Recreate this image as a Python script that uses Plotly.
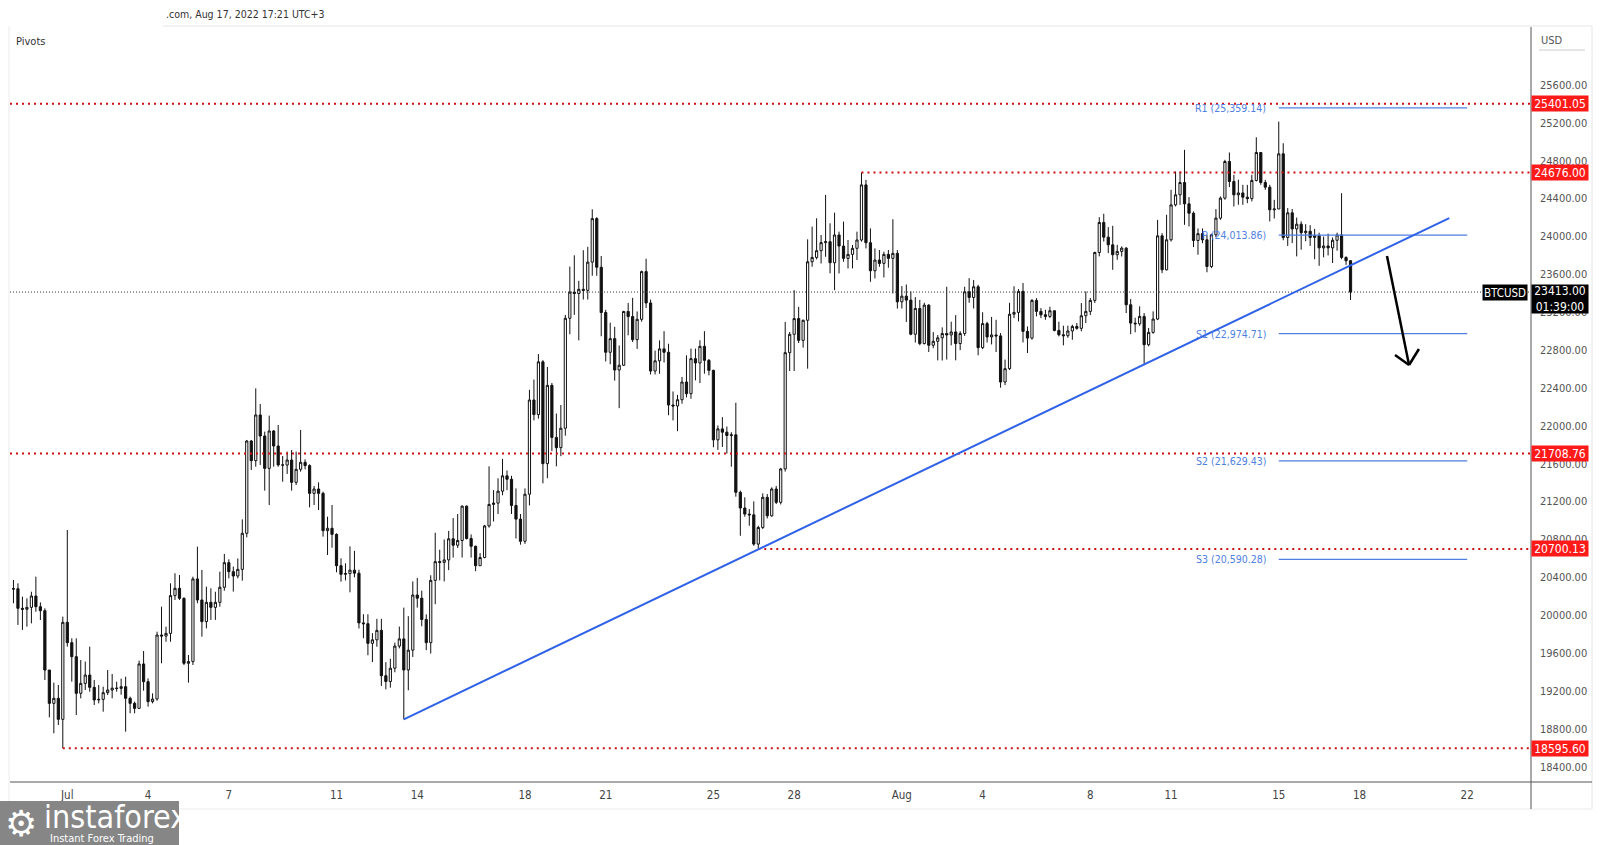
import plotly.graph_objects as go
import pandas as pd

# ---------------- DATA (BTCUSD, 4H candles) ----------------
candle_start = "2022-06-29 00:00"
candle_freq = "4h"
first_open = 20275

closes = [
    20280, 20073, 20063, 20083, 20203, 20090, 20048, 19421, 19069, 19122,
    18900, 19925, 19710, 19562, 19175, 19280, 19368, 19238, 19105, 19111,
    19182, 19210, 19230, 19227, 19245, 19122, 19069, 19016, 19485, 19298,
    19087, 19115, 19791, 19780, 19808, 20207, 20284, 20178, 19492, 19510,
    20383, 20161, 19932, 20136, 20083, 20136, 20295, 20555, 20460, 20414,
    20484, 20865, 21840, 21632, 22115, 21893, 21551, 21946, 21787, 21587,
    21586, 21639, 21403, 21541, 21615, 21580, 21287, 21333, 21287, 20893,
    20918, 20854, 20523, 20432, 20440, 20476, 20444, 19919, 19910, 19703,
    19740, 19840, 19361, 19300, 19440, 19674, 19750, 19422, 19631, 20213,
    20180, 19955, 19710, 20368, 20566, 20558, 20584, 20807, 20739, 20789,
    21152, 20810, 20728, 20523, 20609, 20943, 21170, 21184, 21310, 21472,
    21436, 21159, 21015, 20781, 21278, 22273, 22119, 22676, 21601, 22428,
    21878, 21770, 21975, 23136, 23413, 23398, 23442, 23431, 23729, 24189,
    23675, 23197, 22777, 22921, 22590, 22640, 23208, 23154, 22910, 23125,
    23629, 23298, 22579, 22687, 22813, 22777, 22220, 22210, 22276, 22463,
    22340, 22710, 22664, 22840, 22692, 22586, 21852, 21968, 21933, 21898,
    21905, 21298, 21132, 21068, 21060, 20751, 20927, 21245, 21050, 21333,
    21192, 21545, 22773, 22967, 23133, 22903, 23115, 23733, 23779, 23850,
    23935, 23945, 23723, 24016, 23899, 23769, 23811, 23875, 23963, 24545,
    23934, 23638, 23751, 23716, 23811, 23769, 23822, 23310, 23370, 23328,
    22968, 23240, 22869, 23275, 22851, 22893, 22930, 22975, 22960, 22992,
    22869, 22975, 23416, 23356, 23469, 22826, 23080, 22939, 22960, 22950,
    22463, 22604, 23179, 23198, 23420, 22998, 22927, 23325, 23209, 23173,
    23156, 23216, 23008, 22962, 22952, 23002, 23050, 23030, 23163, 23209,
    23325, 23831, 24148, 23993, 23912, 23807, 23842, 23877, 23279, 23085,
    23078, 23156, 22857, 22987, 23128, 24007, 23648, 23965, 24334, 24440,
    24570, 24345, 24246, 23958, 24030, 23965, 23683, 24018, 24194, 24405,
    24792, 24581, 24440, 24460, 24415, 24400, 24592, 24887, 24570, 24521,
    24282, 24290, 24873, 23990, 24250, 24080, 24130, 24040, 24055, 23990,
    24010, 23880, 23900, 23880, 23960, 24016, 23779, 23744, 23413,
]
highs = [
    20372, 20337, 20196, 20178, 20248, 20407, 20136, 20073, 19421, 19288,
    19263, 19985, 20900, 19756, 19756, 19527, 19510, 19668, 19316, 19263,
    19245, 19421, 19379, 19298, 19330, 19351, 19140, 19087, 19520, 19622,
    19333, 19175, 19826, 20090, 19879, 20337, 20443, 20425, 20189, 19580,
    20407, 20724, 20478, 20302, 20284, 20248, 20460, 20647, 20590, 20513,
    20600, 21012, 21851, 21851, 22396, 22231, 21939, 22108, 21956, 22009,
    21682, 21727, 21745, 21727, 21956, 21646, 21594, 21365, 21403, 21305,
    21041, 21164, 20865, 20601, 20548, 20727, 20680, 20480, 20010, 20010,
    19811, 19962, 19962, 19505, 19541, 19710, 19880, 20080, 19990, 20357,
    20393, 20260, 20009, 20422, 20871, 20692, 20800, 20890, 21026, 21069,
    21159, 21159, 20853, 20735, 20656, 20954, 21572, 21321, 21446, 21651,
    21529, 21472, 21339, 21069, 21339, 22381, 22489, 22758, 22694, 22622,
    22453, 22130, 22220, 23172, 23683, 23801, 23532, 23855, 23891, 24287,
    24204, 23794, 23226, 23090, 23046, 22849, 23215, 23298, 23352, 23208,
    23640, 23765, 23334, 22795, 22903, 23000, 22867, 22363, 22327, 22516,
    22745, 22816, 22816, 22904, 23000, 22706, 22593, 22004, 22092, 21993,
    21933, 22244, 21316, 21245, 21121, 21202, 20945, 21287, 21280, 21351,
    21365, 21556, 23098, 22991, 23433, 23257, 23122, 23970, 24104, 24192,
    24016, 24439, 24139, 24252, 24051, 24157, 23963, 23910, 24051, 24676,
    24598, 24086, 23874, 23857, 23839, 23857, 24182, 23857, 23476, 23493,
    23420, 23360, 23330, 23300, 23285, 22990, 22960, 23040, 23469, 23100,
    23169, 23000, 23469, 23560, 23540, 23490, 23200, 23100, 23150, 23120,
    22980, 22700, 23300, 23474, 23444, 23508, 23050, 23339, 23349, 23244,
    23226, 23258, 23216, 23100, 23058, 23058, 23068, 23086, 23297, 23420,
    23350, 23840, 24204, 24240, 24099, 24113, 23912, 23895, 23888, 23339,
    23142, 23262, 23191, 23034, 23209, 24176, 24035, 24229, 24493, 24686,
    24686, 24915, 24416, 24264, 24085, 24085, 24018, 24029, 24289, 24423,
    24810, 24887, 24651, 24600, 24545, 24545, 24651, 25048, 24887, 24598,
    24546, 24387, 25214, 24985, 24300, 24290, 24200, 24160, 24130, 24120,
    24080, 24040, 24000, 24030, 23990, 24040, 24457, 23790, 23750,
]
lows = [
    20126, 19897, 19844, 19879, 19914, 20037, 19949, 19316, 18921, 18753,
    18840, 18595.6, 19668, 19298, 18946, 19122, 19210, 19192, 19052, 19069,
    18981, 19157, 19122, 19192, 19160, 18770, 18964, 18964, 19016, 19203,
    19034, 19069, 19097, 19492, 19720, 19720, 20161, 20161, 19474, 19288,
    19474, 20126, 19773, 19861, 19950, 19950, 20090, 20259, 20390, 20249,
    20390, 20365, 20823, 21534, 21569, 21587, 21316, 21164, 21569, 21569,
    21410, 21492, 21316, 21375, 21516, 21541, 21139, 21164, 21111, 20830,
    20636, 20713, 20453, 20354, 20368, 20242, 20400, 19860, 19757, 19577,
    19505, 19667, 19253, 19217, 19235, 19397, 19650, 18900, 19207, 19559,
    20080, 19883, 19631, 19595, 20116, 20368, 20357, 20476, 20609, 20710,
    20609, 20800, 20609, 20465, 20523, 20602, 20925, 20990, 21069, 21267,
    21321, 21069, 20810, 20745, 20753, 21159, 22058, 22076, 21393, 21447,
    21734, 21572, 21680, 21896, 22967, 23172, 22903, 23334, 23334, 23585,
    23585, 22946, 22680, 22651, 22478, 22187, 22633, 22956, 22885, 22813,
    23100, 23244, 22543, 22543, 22550, 22669, 22112, 22058, 21944, 22234,
    22300, 22286, 22480, 22452, 22551, 22533, 21774, 21746, 21777, 21707,
    21569, 21252, 20839, 21040, 20945, 20733, 20700.13, 20910, 21022, 21040,
    21174, 21170, 21517, 22579, 22579, 22875, 22826, 22604, 23680, 23758,
    23715, 23786, 23610, 23433, 23610, 23733, 23663, 23663, 23751, 23945,
    23874, 23522, 23557, 23680, 23567, 23670, 23398, 23239, 23239, 23098,
    22957, 22880, 22851, 22860, 22780, 22820, 22692, 22690, 22700, 22850,
    22692, 22800, 22950, 23300, 23240, 22745, 22810, 22880, 22860, 22780,
    22403, 22430, 22590, 23138, 23103, 22881, 22769, 22910, 23156, 23138,
    23120, 23138, 22998, 22945, 22850, 22930, 22909, 23016, 22998, 23086,
    23170, 23297, 23790, 23947, 23824, 23648, 23754, 23789, 23191, 22969,
    22988, 23057, 22655, 22840, 22973, 23117, 23613, 23642, 23947, 24317,
    24334, 24123, 24106, 23888, 23807, 23930, 23622, 23666, 23993, 24176,
    24388, 24522, 24317, 24335, 24335, 24352, 24370, 24581, 24546, 24493,
    24159, 24190, 24299, 23960, 23900, 23930, 23790, 23860, 23950, 23900,
    23760, 23690, 23780, 23800, 23720, 23850, 23760, 23700, 23330,
]

# horizontal key levels (red dotted) and where each starts (None = chart start)
key_levels = [25401.05, 24676.00, 21708.76, 20700.13, 18595.60]
key_level_labels = ["25401.05", "24676.00", "21708.76", "20700.13", "18595.60"]
key_level_starts = [None, "2022-07-30 12:00", None, "2022-07-26 16:00", "2022-06-30 20:00"]

# weekly pivots
pivot_names = ["R1", "P", "S1", "S2", "S3"]
pivot_values = [25359.14, 24013.86, 22974.71, 21629.43, 20590.28]
pivot_start = "2022-08-15 00:00"
pivot_end = "2022-08-22 00:00"

# rising trend line
trend_x = ["2022-07-13 12:00", "2022-08-21 08:00"]
trend_y = [18900, 24195]

# down arrow drawing
arrow_shaft_x = ["2022-08-19 00:30", "2022-08-19 20:10"]
arrow_shaft_y = [23794, 22643]
arrow_head_x = ["2022-08-19 07:40", "2022-08-19 20:10", "2022-08-20 05:00"]
arrow_head_y = [22748, 22643, 22812]

last_price = 23413.00
countdown = "01:39:00"
symbol = "BTCUSD"

y_tick_values = [18400 + 400 * i for i in range(19)]
y_tick_text = [f"{v:.2f}" for v in y_tick_values]
x_tick_values = ["2022-07-01", "2022-07-04", "2022-07-07", "2022-07-11", "2022-07-14",
                 "2022-07-18", "2022-07-21", "2022-07-25", "2022-07-28", "2022-08-01",
                 "2022-08-04", "2022-08-08", "2022-08-11", "2022-08-15", "2022-08-18",
                 "2022-08-22"]
x_tick_text = ["Jul", "4", "7", "11", "14", "18", "21", "25", "28", "Aug", "4", "8",
               "11", "15", "18", "22"]

# ---------------- BUILD ----------------
times = pd.date_range(candle_start, periods=len(closes), freq=candle_freq)
opens = [first_open] + closes[:-1]
highs = [max(h, o, c) for h, o, c in zip(highs, opens, closes)]
lows = [min(l, o, c) for l, o, c in zip(lows, opens, closes)]

W, H = 1600, 845
PL, PR, PT, PB = 10, 1531, 27, 782   # plot area in pixels
X_RANGE = ["2022-06-28 20:55", "2022-08-24 08:53"]
Y_RANGE = [18238.4, 26212.6]

def px_x(px):
    return (px - PL) / (PR - PL)

def px_y(py):
    return (PB - py) / (PB - PT)

NARROW = "Liberation Sans Narrow, Arial Narrow, DejaVu Sans Condensed, sans-serif"
RED = "#ff1a1a"
PIV_BLUE = "#4f7fe0"
TREND_BLUE = "#2f62e8"

fig = go.Figure()
fig.add_trace(go.Candlestick(
    x=times, open=opens, high=highs, low=lows, close=closes,
    increasing=dict(line=dict(color="#111111", width=1), fillcolor="#ffffff"),
    decreasing=dict(line=dict(color="#111111", width=1), fillcolor="#111111"),
    whiskerwidth=0, hoverinfo="skip", showlegend=False,
))

shapes = []
annotations = []

# red dotted key levels
for lvl, lab, st in zip(key_levels, key_level_labels, key_level_starts):
    shapes.append(dict(type="line", xref="x", yref="y",
                       x0=st if st else X_RANGE[0], x1=X_RANGE[1], y0=lvl, y1=lvl,
                       line=dict(color="#cc1111", width=2, dash="2px,4px"), layer="above"))
    annotations.append(dict(xref="paper", yref="y", x=1, y=lvl, xanchor="left",
                            yanchor="middle", xshift=0, text=lab, showarrow=False,
                            font=dict(family=NARROW, size=12, color="white"),
                            bgcolor=RED, width=56, height=15, borderpad=0, align="center"))

# current price line
shapes.append(dict(type="line", xref="paper", yref="y", x0=0, x1=1, y0=last_price,
                   y1=last_price, line=dict(color="#333333", width=1, dash="1px,2px")))

# pivots
for nm, val in zip(pivot_names, pivot_values):
    shapes.append(dict(type="line", xref="x", yref="y", x0=pivot_start, x1=pivot_end,
                       y0=val, y1=val, line=dict(color=PIV_BLUE, width=1.2)))
    annotations.append(dict(xref="x", yref="y", x=pivot_start, y=val, xanchor="right",
                            yanchor="middle", xshift=-11, showarrow=False,
                            text=f"{nm} ({val:,.2f})",
                            font=dict(family=NARROW, size=10.5, color=PIV_BLUE)))

# trend line
shapes.append(dict(type="line", xref="x", yref="y", x0=trend_x[0], x1=trend_x[1],
                   y0=trend_y[0], y1=trend_y[1], line=dict(color=TREND_BLUE, width=2)))

# arrow
shapes.append(dict(type="line", xref="x", yref="y", x0=arrow_shaft_x[0], x1=arrow_shaft_x[1],
                   y0=arrow_shaft_y[0], y1=arrow_shaft_y[1], line=dict(color="#000", width=2.5)))
for i in (0, 2):
    shapes.append(dict(type="line", xref="x", yref="y", x0=arrow_head_x[i], x1=arrow_head_x[1],
                       y0=arrow_head_y[i], y1=arrow_head_y[1], line=dict(color="#000", width=2.5)))

# frame lines (pixel based)
def pline(x0, y0, x1, y1, color, width=1):
    shapes.append(dict(type="line", xref="paper", yref="paper", x0=px_x(x0), x1=px_x(x1),
                       y0=px_y(y0), y1=px_y(y1), line=dict(color=color, width=width)))

pline(163, 26, 1592, 26, "#e6e6e6")
pline(9, 26, 9, 809, "#ececec")
pline(1592, 26, 1592, 809, "#e6e6e6")
pline(9, 809, 1592, 809, "#ececec")
pline(10, 782, 1592, 782, "#555555")
pline(1531, 27, 1531, 809, "#555555")
pline(1539, 50, 1585, 50, "#cccccc")

# instaforex logo box
shapes.append(dict(type="rect", xref="paper", yref="paper", x0=px_x(0), x1=px_x(179),
                   y0=px_y(845), y1=px_y(801), fillcolor="rgba(128,128,128,0.95)",
                   line=dict(width=0), layer="above"))

# symbol + last price labels
annotations.append(dict(xref="paper", yref="y", x=1, y=last_price, xanchor="right",
                        yanchor="middle", xshift=-3, text=symbol, showarrow=False,
                        font=dict(family=NARROW, size=11.5, color="white"),
                        bgcolor="#000000", width=44, height=15, borderpad=0))
annotations.append(dict(xref="paper", yref="y", x=1, y=last_price, xanchor="left",
                        yanchor="top", yshift=8, text=f"{last_price:.2f}<br>{countdown}",
                        showarrow=False, font=dict(family=NARROW, size=12, color="white"),
                        bgcolor="#000000", width=56, height=28, borderpad=0))

# header / misc text
annotations.append(dict(xref="paper", yref="paper", x=px_x(164), y=px_y(14), xanchor="left",
                        yanchor="middle", showarrow=False,
                        text=".com, Aug 17, 2022 17:21 UTC+3",
                        font=dict(family=NARROW, size=10.5, color="#333333")))
annotations.append(dict(xref="paper", yref="paper", x=px_x(14), y=px_y(41), xanchor="left",
                        yanchor="middle", showarrow=False, text="Pivots",
                        font=dict(family=NARROW, size=11, color="#333333")))
annotations.append(dict(xref="paper", yref="paper", x=px_x(1539), y=px_y(40), xanchor="left",
                        yanchor="middle", showarrow=False, text="USD",
                        font=dict(family=NARROW, size=11, color="#555555")))

# logo text
annotations.append(dict(xref="paper", yref="paper", x=px_x(3), y=px_y(823), xanchor="left",
                        yanchor="middle", showarrow=False, text="⚙",
                        font=dict(family="DejaVu Sans", size=36, color="white")))
annotations.append(dict(xref="paper", yref="paper", x=px_x(42), y=px_y(817), xanchor="left",
                        yanchor="middle", showarrow=False, text="instaforex",
                        font=dict(family=NARROW, size=32, color="white")))
annotations.append(dict(xref="paper", yref="paper", x=px_x(48), y=px_y(838), xanchor="left",
                        yanchor="middle", showarrow=False, text="Instant Forex Trading",
                        font=dict(family=NARROW, size=11, color="white")))

fig.update_layout(
    width=W, height=H,
    margin=dict(l=PL, r=W - PR, t=PT, b=H - PB, pad=0),
    paper_bgcolor="white", plot_bgcolor="white",
    shapes=shapes, annotations=annotations, showlegend=False,
    xaxis=dict(range=X_RANGE, type="date", rangeslider=dict(visible=False),
               tickvals=x_tick_values, ticktext=x_tick_text, showgrid=False,
               zeroline=False, showline=False, ticks="", ticklabelstandoff=4,
               tickfont=dict(family=NARROW, size=11.5, color="#444444")),
    yaxis=dict(range=Y_RANGE, side="right", tickvals=y_tick_values, ticktext=y_tick_text,
               showgrid=False, zeroline=False, showline=False, ticks="",
               ticklabelstandoff=8,
               tickfont=dict(family=NARROW, size=11, color="#555555")),
)

fig.write_html("out.html")
